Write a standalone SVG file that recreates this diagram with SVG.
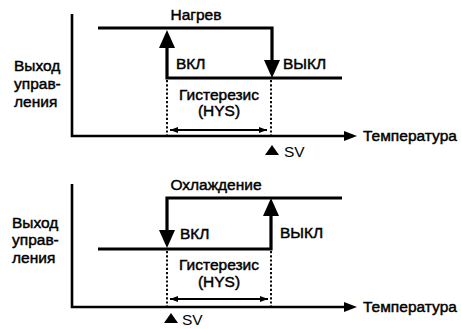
<svg xmlns="http://www.w3.org/2000/svg" width="461" height="329" viewBox="0 0 461 329">
<defs>
<style>
text{font-family:"Liberation Sans",Arial,sans-serif;font-size:15.5px;fill:#000;stroke:#000;stroke-width:0.45}
text.sv{stroke:none}
.ax{stroke:#000;stroke-width:2.6;fill:none}
.sig{stroke:#000;stroke-width:3.2;fill:none}
.dot{stroke:#000;stroke-width:1.9;stroke-dasharray:2.2 2;fill:none}
.hys{stroke:#000;stroke-width:2;fill:none}
.hd{fill:#000}
</style>
<marker id="ahs" markerWidth="8" markerHeight="6" refX="8" refY="3" orient="auto-start-reverse" markerUnits="userSpaceOnUse"><path d="M0,0 L8,3 L0,6 Z" fill="#000"/></marker>
</defs>

<!-- Top: heating -->
<g id="top-axes">
<path class="ax" d="M72,14 V136 H346"/>
<path class="hd" d="M344,131 L357,136 L344,141 Z"/>
<text x="363" y="141">Температура</text>
<text x="14" y="71">Выход</text>
<text x="14" y="89">управ-</text>
<text x="14" y="107">ления</text>
</g>
<g id="top-signal">
<path class="sig" d="M98,28 H272 V62"/>
<path class="hd" d="M264,60 L280,60 L272,78 Z"/>
<path class="sig" d="M167,46 V78 H342"/>
<path class="hd" d="M159,48 L175,48 L167,30 Z"/>
<text x="196" y="20" text-anchor="middle">Нагрев</text>
<text x="176" y="69">ВКЛ</text>
<text x="283" y="69">ВЫКЛ</text>
</g>
<g id="top-hys">
<path class="dot" d="M167,80 V135 M271,80 V135"/>
<path class="hys" d="M170,130 H267" marker-start="url(#ahs)" marker-end="url(#ahs)"/>
<text x="219" y="100" text-anchor="middle">Гистерезис</text>
<text x="219" y="116" text-anchor="middle">(HYS)</text>
<path class="hd" d="M265,155 L272,145 L279,155 Z"/>
<text class="sv" x="284" y="157">SV</text>
</g>

<!-- Bottom: cooling -->
<g id="bot-axes">
<path class="ax" d="M72,184 V307 H346"/>
<path class="hd" d="M344,302 L357,307 L344,312 Z"/>
<text x="363" y="312">Температура</text>
<text x="12" y="228">Выход</text>
<text x="12" y="245">управ-</text>
<text x="12" y="263">ления</text>
</g>
<g id="bot-signal">
<path class="sig" d="M342,198 H167 V232"/>
<path class="hd" d="M159,230 L175,230 L167,248 Z"/>
<path class="sig" d="M98,249 H271 V214"/>
<path class="hd" d="M263,216 L279,216 L271,198 Z"/>
<text x="216" y="190" text-anchor="middle">Охлаждение</text>
<text x="180" y="239">ВКЛ</text>
<text x="280" y="238">ВЫКЛ</text>
</g>
<g id="bot-hys">
<path class="dot" d="M167,251 V306 M271,251 V306"/>
<path class="hys" d="M170,299 H268" marker-start="url(#ahs)" marker-end="url(#ahs)"/>
<text x="219" y="270" text-anchor="middle">Гистерезис</text>
<text x="219" y="287" text-anchor="middle">(HYS)</text>
<path class="hd" d="M164,323 L171,313 L178,323 Z"/>
<text class="sv" x="182" y="325">SV</text>
</g>
</svg>
